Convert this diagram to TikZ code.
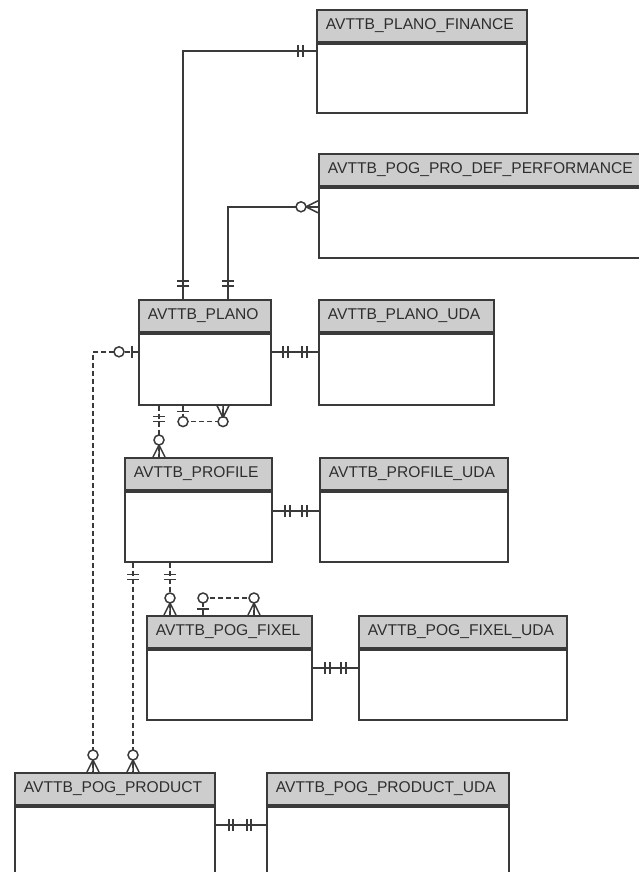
\documentclass[tikz,border=0pt]{standalone}
\usepackage{fontspec}
\setmainfont{Liberation Sans}
\usetikzlibrary{calc,decorations.markings}

\definecolor{erline}{HTML}{3A3A3A}
\definecolor{erhead}{HTML}{CDCDCD}
\definecolor{ertext}{HTML}{2E2E2E}

\tikzset{
    tblhead/.style={draw=erline, fill=erhead, line width=1.8pt, anchor=north west,
        minimum height=32pt, inner xsep=9pt, inner ysep=0pt, align=left,
        text=ertext, font=\fontsize{15.6}{16}\selectfont},
    tblbody/.style={draw=erline, fill=white, line width=1.8pt, anchor=north west,
        inner sep=0pt, minimum height=70pt},
    rel/.style={draw=erline, line width=1.5pt},
    nonid/.style={rel, dash pattern=on 5pt off 3pt},
    bar at/.style={postaction={decorate, decoration={markings,
        mark=at position #1 with {\draw[solid, erline, line width=1.5pt] (0pt,-6pt) -- (0pt,6pt);}}}},
    ring at/.style={postaction={decorate, decoration={markings,
        mark=at position #1 with {\draw[solid, erline, fill=white, line width=1.5pt] (0pt,0pt) circle (5pt);}}}},
    crow end/.style={postaction={decorate, decoration={markings,
        mark=at position -12pt with {\draw[solid, erline, line width=1.5pt]
            (0pt,0pt) -- (12pt,6pt) (0pt,0pt) -- (12pt,0pt) (0pt,0pt) -- (12pt,-6pt);}}}},
}

\begin{document}
\begin{tikzpicture}[x=1pt, y=-1pt]
    \useasboundingbox (0,0) rectangle (638,872);

    % Tables: header and body
    \node[tblhead, text width=192pt] (fin-h) at (316,9) {AVTTB\_PLANO\_FINANCE};
    \node[tblbody, minimum width=210pt, minimum height=69pt] (fin) at (fin-h.south west) {};

    \node[tblhead, text width=309pt] (perf-h) at (318,153) {AVTTB\_POG\_PRO\_DEF\_PERFORMANCE};
    \node[tblbody, minimum width=327pt] (perf) at (perf-h.south west) {};

    \node[tblhead, text width=114pt] (plano-h) at (138,299) {AVTTB\_PLANO};
    \node[tblbody, minimum width=132pt, minimum height=71pt] (plano) at (plano-h.south west) {};

    \node[tblhead, text width=157pt] (planouda-h) at (318,299) {AVTTB\_PLANO\_UDA};
    \node[tblbody, minimum width=175pt, minimum height=71pt] (planouda) at (planouda-h.south west) {};

    \node[tblhead, text width=129pt] (profile-h) at (124,457) {AVTTB\_PROFILE};
    \node[tblbody, minimum width=147pt] (profile) at (profile-h.south west) {};

    \node[tblhead, text width=170pt] (profileuda-h) at (319,457) {AVTTB\_PROFILE\_UDA};
    \node[tblbody, minimum width=188pt] (profileuda) at (profileuda-h.south west) {};

    \node[tblhead, text width=147pt] (fixel-h) at (146,615) {AVTTB\_POG\_FIXEL};
    \node[tblbody, minimum width=165pt] (fixel) at (fixel-h.south west) {};

    \node[tblhead, text width=190pt] (fixeluda-h) at (358,615) {AVTTB\_POG\_FIXEL\_UDA};
    \node[tblbody, minimum width=208pt] (fixeluda) at (fixeluda-h.south west) {};

    \node[tblhead, text width=182pt] (product-h) at (14,772) {AVTTB\_POG\_PRODUCT};
    \node[tblbody, minimum width=200pt, minimum height=120pt] (product) at (product-h.south west) {};

    \node[tblhead, text width=224pt] (productuda-h) at (266,772) {AVTTB\_POG\_PRODUCT\_UDA};
    \node[tblbody, minimum width=242pt, minimum height=120pt] (productuda) at (productuda-h.south west) {};

    % Relations of AVTTB_PLANO
    \draw[rel, bar at=13pt, bar at=18pt, bar at=-13pt, bar at=-18pt]
        ($(plano-h.north west)+(45,0)$) |- ($(fin.north west)+(0,8)$);
    \draw[rel, bar at=13pt, bar at=18pt, ring at=-17pt, crow end]
        ($(plano-h.north west)+(90,0)$) |- ($(perf.north west)+(0,20)$);
    \draw[rel, bar at=11pt, bar at=16pt, bar at=-11pt, bar at=-16pt]
        ($(plano.north east)+(0,19)$) -- ($(planouda.north west)+(0,19)$);
    \draw[nonid, bar at=6pt, ring at=19pt, ring at=-17pt, crow end]
        ($(plano.north west)+(0,19)$) -| ($(product-h.north west)+(79,0)$);
    \draw[nonid, bar at=11pt, bar at=16pt, ring at=-17pt, crow end]
        ($(plano.south west)+(21,0)$) -- ($(profile-h.north west)+(35,0)$);
    \draw[nonid, bar at=6pt, ring at=16pt, ring at=-16pt, crow end]
        ($(plano.south west)+(45,0)$) -- ++(0,16) -| ($(plano.south west)+(85,0)$);

    % Relations of AVTTB_PROFILE
    \draw[rel, bar at=12pt, bar at=17pt, bar at=-12pt, bar at=-17pt]
        ($(profile.north east)+(0,20)$) -- ($(profileuda.north west)+(0,20)$);
    \draw[nonid, bar at=12pt, bar at=17pt, ring at=-17pt, crow end]
        ($(profile.south west)+(46,0)$) -- ($(fixel-h.north west)+(24,0)$);
    \draw[nonid, bar at=12pt, bar at=17pt, ring at=-17pt, crow end]
        ($(profile.south west)+(9,0)$) -- ($(product-h.north west)+(119,0)$);

    % Relations of AVTTB_POG_FIXEL
    \draw[nonid, bar at=6pt, ring at=17pt, ring at=-17pt, crow end]
        ($(fixel-h.north west)+(57,0)$) -- ++(0,-17) -| ($(fixel-h.north west)+(108,0)$);
    \draw[rel, bar at=12pt, bar at=17pt, bar at=-12pt, bar at=-17pt]
        ($(fixel.north east)+(0,19)$) -- ($(fixeluda.north west)+(0,19)$);

    % Relations of AVTTB_POG_PRODUCT
    \draw[rel, bar at=13pt, bar at=17pt, bar at=-15pt, bar at=-19pt]
        ($(product.north east)+(0,19)$) -- ($(productuda.north west)+(0,19)$);
\end{tikzpicture}
\end{document}
